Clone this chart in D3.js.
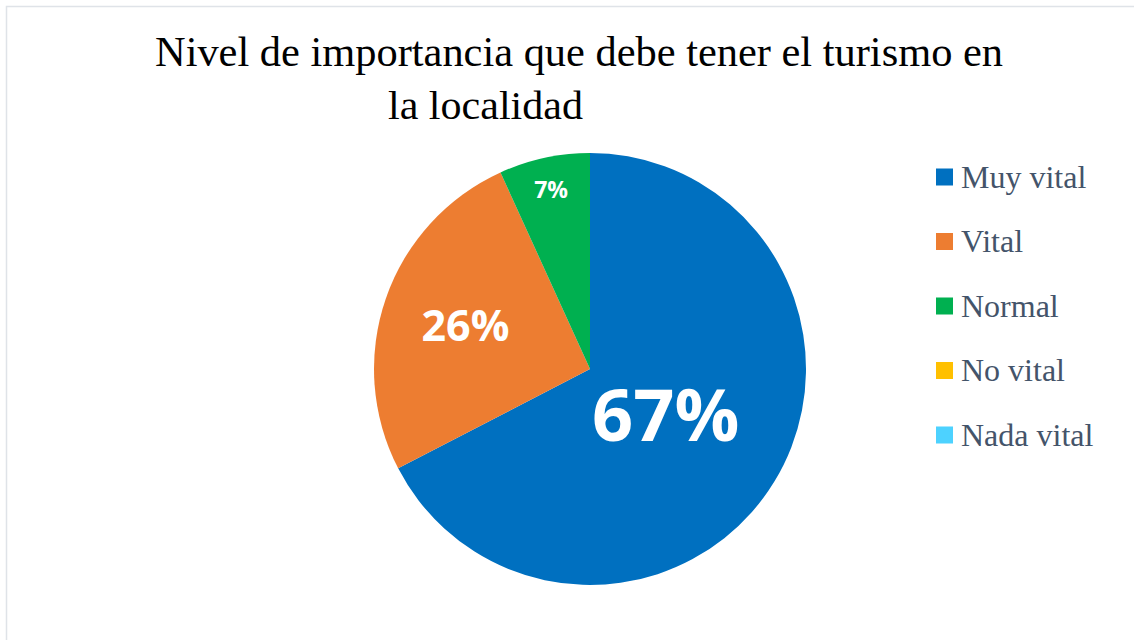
<!DOCTYPE html>
<html>
<head>
<meta charset="utf-8">
<script src="https://cdn.jsdelivr.net/npm/d3@7"></script>
<style>
  html, body { margin: 0; padding: 0; background: #fff; }
  svg { display: block; }
</style>
</head>
<body>
<svg id="chart" width="1134" height="640"></svg>
<script>
const categories = ["Muy vital", "Vital", "Normal", "No vital", "Nada vital"];
const values = [67.4, 25.8, 6.8, 0, 0];
const colors = ["#0070c0", "#ed7d31", "#00b050", "#ffc000", "#4dd2ff"];
const titleLines = ["Nivel de importancia que debe tener el turismo en", "la localidad"];

const svg = d3.select("#chart");
const W = 1134, H = 640;

// chart area border (only top & left visible)
svg.append("rect")
  .attr("x", 6.5).attr("y", 6.5)
  .attr("width", W + 20).attr("height", H + 20)
  .attr("fill", "#fff").attr("stroke", "#dfe3e8").attr("stroke-width", 1.5);

// title
const title = svg.append("g");
title.append("text")
  .attr("x", 155).attr("y", 66)
  .attr("textLength", 848).attr("lengthAdjust", "spacingAndGlyphs")
  .style("font-family", "'Liberation Serif', 'Times New Roman', serif")
  .style("font-size", "42px").attr("fill", "#000")
  .text(titleLines[0]);
title.append("text")
  .attr("x", 388).attr("y", 119)
  .attr("textLength", 195).attr("lengthAdjust", "spacingAndGlyphs")
  .style("font-family", "'Liberation Serif', 'Times New Roman', serif")
  .style("font-size", "41px").attr("fill", "#000")
  .text(titleLines[1]);

// pie
const cx = 590, cy = 369, r = 216;
const data = categories.map((c, i) => ({ cat: c, value: values[i], color: colors[i] }));
const pie = d3.pie().sort(null).value(d => d.value)(data);
const arc = d3.arc().innerRadius(0).outerRadius(r);
const g = svg.append("g").attr("transform", `translate(${cx},${cy})`);
g.selectAll("path").data(pie.filter(d => d.data.value > 0)).join("path")
  .attr("d", arc)
  .attr("fill", d => d.data.color);

// data labels
const labelStyle = [
  { rf: 0.41, size: 72 },
  { rf: 0.61, size: 43 },
  { rf: 0.85, size: 23 }
];
g.selectAll("text.lbl").data(pie.filter(d => d.data.value > 0)).join("text")
  .attr("class", "lbl")
  .each(function(d, i) {
    const s = labelStyle[i];
    const a = (d.startAngle + d.endAngle) / 2;
    const rr = r * s.rf;
    d3.select(this)
      .attr("x", Math.sin(a) * rr)
      .attr("y", -Math.cos(a) * rr)
      .attr("dy", "0.36em")
      .style("font-size", s.size + "px");
  })
  .attr("text-anchor", "middle")
  .style("font-family", "'Open Sans', 'Noto Sans', sans-serif")
  .style("font-weight", "700")
  .attr("fill", "#fff")
  .text(d => Math.round(d.data.value / d3.sum(values) * 100) + "%");

// legend
const legendY = d3.scalePoint().domain(categories).range([177, 435]);
const lg = svg.append("g");
const items = lg.selectAll("g").data(data).join("g")
  .attr("transform", d => `translate(936,${legendY(d.cat)})`);
items.append("rect")
  .attr("x", 0).attr("y", -8.5).attr("width", 17).attr("height", 17)
  .attr("fill", d => d.color);
items.append("text")
  .attr("x", 25).attr("y", 0).attr("dy", "0.34em")
  .style("font-family", "'Liberation Serif', 'Times New Roman', serif")
  .style("font-size", "32px")
  .attr("fill", "#44546a")
  .text(d => d.cat);
</script>
</body>
</html>
